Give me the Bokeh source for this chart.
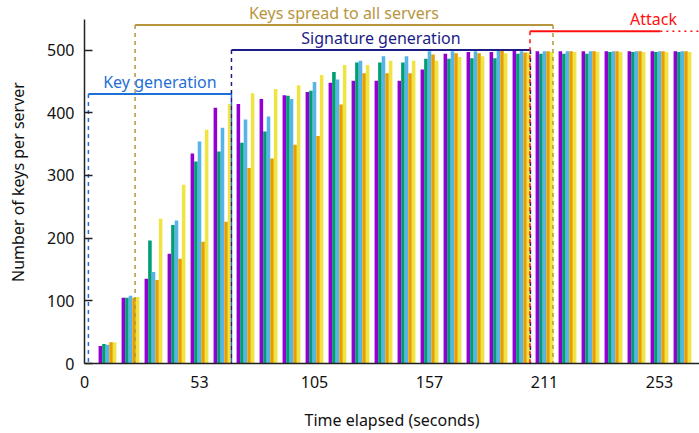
from bokeh.plotting import figure
from bokeh.models import ColumnDataSource, Range1d, FixedTicker, Label
from bokeh.transform import dodge
from bokeh.embed import file_html
from bokeh.resources import INLINE

# ---------------- data ----------------
sample_index = list(range(1, 27))
tick_index = [0, 5, 10, 15, 20, 25]
tick_labels = ["0", "53", "105", "157", "211", "253"]
y_ticks = [0, 100, 200, 300, 400, 500]

server_1 = [28, 105, 135, 175, 335, 408, 414, 422, 428, 433, 448, 451, 451,
            451, 469, 494, 497, 497, 499, 498, 498, 498, 498, 498, 498, 498]
server_2 = [31, 105, 196, 221, 322, 338, 352, 370, 427, 435, 465, 480, 480,
            480, 486, 486, 487, 487, 494, 494, 494, 494, 497, 497, 497, 497]
server_3 = [30, 108, 146, 228, 354, 376, 389, 394, 422, 449, 453, 483, 490,
            490, 498, 498, 498, 500, 498, 498, 498, 498, 498, 498, 498, 498]
server_4 = [34, 105, 133, 167, 194, 226, 312, 327, 349, 363, 413, 463, 463,
            463, 493, 495, 495, 500, 496, 498, 498, 498, 498, 498, 498, 498]
server_5 = [34, 106, 231, 285, 373, 414, 431, 438, 444, 460, 476, 476, 483,
            483, 483, 489, 490, 495, 496, 497, 497, 497, 497, 497, 497, 497]

phase_names = ["Key generation", "Keys spread to all servers",
               "Signature generation", "Attack"]
phase_start = [0.17, 2.2, 6.39, 19.37]
phase_end = [6.39, 20.37, 19.39, 25.04]
phase_level = [430, 540, 500, 530]
phase_label_x = [3.28, 11.28, 12.89, 24.74]
phase_closed = [True, True, True, False]

# ---------------- styles ----------------
series = [server_1, server_2, server_3, server_4, server_5]
bar_colors = ["#9400d3", "#009e73", "#56b4e9", "#e69f00", "#f0e442"]
phase_colors = ["#1f6fd8", "#b8953d", "#1c1c86", "#ff1010"]
FONT = "Noto Sans"
X_END = 26.74
LABEL_GAP = 19  # data units between bracket line and label anchor

p = figure(width=699, height=433, output_backend="svg", toolbar_location=None,
           x_range=Range1d(0, X_END), y_range=Range1d(0, 579),
           min_border_left=84, min_border_right=0, min_border_top=0,
           min_border_bottom=70)

src = ColumnDataSource(dict(x=sample_index, s1=server_1, s2=server_2,
                            s3=server_3, s4=server_4, s5=server_5))
bar_w = 0.155
for i, col in enumerate(bar_colors):
    p.vbar(x=dodge("x", (i - 2) * bar_w, range=p.x_range), top="s%d" % (i + 1),
           width=bar_w, bottom=0, source=src, fill_color=col, line_color=None)

# phase brackets
for name, x0, x1, lvl, lx, closed, col in zip(phase_names, phase_start, phase_end,
                                               phase_level, phase_label_x,
                                               phase_closed, phase_colors):
    vx = [x0, x1] if closed else [x0]
    p.segment(x0=vx, y0=[lvl] * len(vx), x1=vx, y1=[0] * len(vx),
              line_color=col, line_width=1.5, line_dash="4 4")
    p.segment(x0=[x0], y0=[lvl], x1=[x1], y1=[lvl], line_color=col, line_width=2)
    if not closed:
        p.segment(x0=[x1], y0=[lvl], x1=[X_END], y1=[lvl], line_color=col,
                  line_width=1.5, line_dash="2 4")
    p.add_layout(Label(x=lx, y=lvl + LABEL_GAP, text=name, text_align="center",
                       text_baseline="alphabetic", text_color=col,
                       text_font=FONT, text_font_size="16px"))

# axes
p.xgrid.visible = False
p.ygrid.visible = False
p.outline_line_color = None

p.xaxis.ticker = FixedTicker(ticks=tick_index)
p.xaxis.major_label_overrides = {t: l for t, l in zip(tick_index, tick_labels)}
p.xaxis.major_tick_in = 0
p.xaxis.major_tick_out = 0
p.xaxis.minor_tick_line_color = None
p.xaxis.major_label_standoff = 12
p.xaxis.axis_label = "Time elapsed (seconds)"
p.xaxis.axis_label_standoff = 18

p.yaxis.ticker = FixedTicker(ticks=y_ticks)
p.yaxis.major_tick_in = 8
p.yaxis.major_tick_out = 0
p.yaxis.minor_tick_line_color = None
p.yaxis.bounds = (0, 549)
p.yaxis.major_label_standoff = 10
p.yaxis.axis_label = "Number of keys per server"
p.yaxis.axis_label_standoff = 15

for ax in (p.xaxis, p.yaxis):
    ax.axis_line_color = "#222222"
    ax.axis_line_width = 1.5
    ax.major_tick_line_color = "#222222"
    ax.major_tick_line_width = 1.5
    ax.major_label_text_font = FONT
    ax.major_label_text_font_size = "16px"
    ax.major_label_text_color = "#111111"
    ax.axis_label_text_font = FONT
    ax.axis_label_text_font_size = "16px"
    ax.axis_label_text_font_style = "normal"
    ax.axis_label_text_color = "#111111"

open("out.html", "w").write(file_html(p, INLINE))
